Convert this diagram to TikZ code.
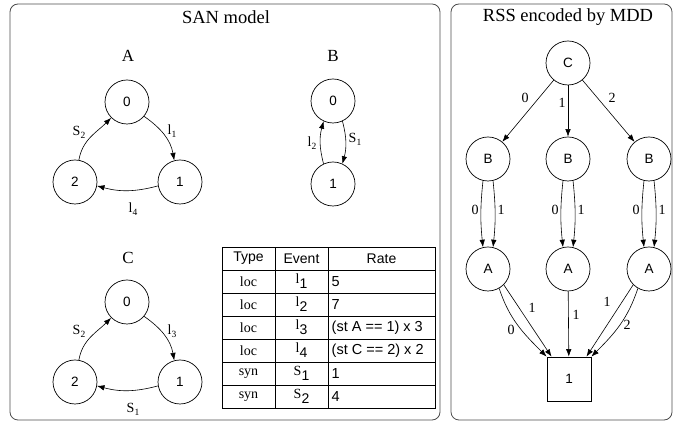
\documentclass[tikz,border=0pt]{standalone}
\usepackage{fontspec}
\setmainfont{Liberation Serif}
\setsansfont{Liberation Sans}
\usetikzlibrary{arrows.meta}

% letter with a lowered index, as used on the edge labels
\newcommand{\edgeidx}[2]{#1\lower3pt\hbox{\fontsize{9.5}{9.5}\selectfont #2}}
% letter with a large sans index, as used in the event column
\newcommand{\tabidx}[2]{{\fontsize{14}{14}\selectfont #1}\lower5pt\hbox{\sffamily\fontsize{14}{14}\selectfont #2}}

\tikzset{
  panel/.style={draw=black!70, rounded corners=8pt, line width=0.8pt},
  title/.style={font=\fontsize{18.5}{18.5}\selectfont, inner sep=0pt},
  glabel/.style={font=\fontsize{17}{17}\selectfont, inner sep=0pt},
  state/.style={circle, draw, line width=0.7pt, minimum size=44pt, inner sep=0pt,
    font=\sffamily\fontsize{13.5}{13.5}\selectfont},
  term/.style={rectangle, draw, line width=0.7pt, minimum size=44pt, inner sep=0pt,
    font=\sffamily\fontsize{13.5}{13.5}\selectfont},
  edge/.style={-{Latex[length=7.5pt,width=5.5pt]}, line width=0.6pt},
  elabel/.style={font=\fontsize{14}{14}\selectfont, inner sep=0pt},
  cell/.style={inner sep=0pt, anchor=center},
  hdr/.style={cell, font=\sffamily\fontsize{14}{14}\selectfont},
  typ/.style={cell, font=\fontsize{14}{14}\selectfont},
  rate/.style={inner sep=0pt, anchor=west, font=\sffamily\fontsize{14.5}{14.5}\selectfont},
  grid/.style={line width=0.6pt}
}

\begin{document}
\begin{tikzpicture}[x=1pt, y=1pt]
\useasboundingbox (0,0) rectangle (674,422);

% ---------- panels ----------
\draw[panel] (10,2) rectangle (440,418);
\draw[panel] (451,2) rectangle (672,418);
\node[title] (t1) at (226,405) {SAN model};
\node[title] (t2) at (568,405) {RSS encoded by MDD};

% ---------- automaton A ----------
\node[glabel] (la) at (128,366) {A};
\node[state] (a0) at (127,320) {0};
\node[state] (a1) at (180,240) {1};
\node[state] (a2) at (75,240) {2};
\draw[edge] (a0.-40) to[out=-35, in=100] (a1.105);
\draw[edge] (a1.190) to[out=-165, in=-15] (a2.-10);
\draw[edge] (a2.80) to[out=80, in=-135] (a0.-135);
\node[elabel] (la1) at (172,291) {\edgeidx{l}{1}};
\node[elabel] (la4) at (133,213) {\edgeidx{l}{4}};
\node[elabel] (la2) at (79,290) {\edgeidx{S}{2}};

% ---------- automaton B ----------
\node[glabel] (lb) at (333,366) {B};
\node[state] (b0) at (333,321) {0};
\node[state] (b1) at (333,238) {1};
\draw[edge] (b1.115) to[out=105, in=-105] (b0.-115);
\draw[edge] (b0.-65) to[out=-75, in=75] (b1.65);
\node[elabel] (lb2) at (312,279) {\edgeidx{l}{2}};
\node[elabel] (lb1) at (355,283) {\edgeidx{S}{1}};

% ---------- automaton C ----------
\node[glabel] (lc) at (128,164) {C};
\node[state] (c0) at (127,120) {0};
\node[state] (c1) at (180,40) {1};
\node[state] (c2) at (75,40) {2};
\draw[edge] (c0.-40) to[out=-35, in=100] (c1.105);
\draw[edge] (c1.190) to[out=-165, in=-15] (c2.-10);
\draw[edge] (c2.80) to[out=80, in=-135] (c0.-135);
\node[elabel] (lc3) at (172,91) {\edgeidx{l}{3}};
\node[elabel] (lc1) at (133,13) {\edgeidx{S}{1}};
\node[elabel] (lc2) at (79,91) {\edgeidx{S}{2}};

% ---------- event table ----------
\draw[grid] (222,14) rectangle (435,175);
\foreach \yy in {152,129,106,83,60,37} \draw[grid] (222,\yy) -- (435,\yy);
\draw[grid] (275,14) -- (275,175);
\draw[grid] (328,14) -- (328,175);
\node[hdr] (h1) at (248.5,163.5) {Type};
\node[hdr] (h2) at (301.5,163.5) {Event};
\node[hdr] (h3) at (381.5,163.5) {Rate};
\node[typ] (r1t) at (248.5,140.5) {loc};
\node[typ] (r2t) at (248.5,117.5) {loc};
\node[typ] (r3t) at (248.5,94.5) {loc};
\node[typ] (r4t) at (248.5,71.5) {loc};
\node[typ] (r5t) at (248.5,48.5) {syn};
\node[typ] (r6t) at (248.5,25.5) {syn};
\node[cell] (r1e) at (301.5,141) {\tabidx{l}{1}};
\node[cell] (r2e) at (301.5,118) {\tabidx{l}{2}};
\node[cell] (r3e) at (301.5,95) {\tabidx{l}{3}};
\node[cell] (r4e) at (301.5,72) {\tabidx{l}{4}};
\node[cell] (r5e) at (301.5,49) {\tabidx{S}{1}};
\node[cell] (r6e) at (301.5,26) {\tabidx{S}{2}};
\node[rate] (r1r) at (331.5,140.5) {5};
\node[rate] (r2r) at (331.5,117.5) {7};
\node[rate] (r3r) at (331.5,94.5) {(st A == 1) x 3};
\node[rate] (r4r) at (331.5,71.5) {(st C == 2) x 2};
\node[rate] (r5r) at (331.5,48.5) {1};
\node[rate] (r6r) at (331.5,25.5) {4};

% ---------- MDD ----------
\node[state] (mc) at (568,359) {C};
\node[state] (mb0) at (488,263) {B};
\node[state] (mb1) at (568,263) {B};
\node[state] (mb2) at (649,263) {B};
\node[state] (ma0) at (488,153) {A};
\node[state] (ma1) at (568,153) {A};
\node[state] (ma2) at (649,153) {A};
\node[term] (mt) at (569,43) {1};

\draw[edge] (mc) -- (mb0);
\draw[edge] (mc) -- (mb1);
\draw[edge] (mc) -- (mb2);
\node[elabel] (e0) at (525,324) {0};
\node[elabel] (e1) at (562,319) {1};
\node[elabel] (e2) at (612,324) {2};

\foreach \n in {0,1,2} {
  \draw[edge] (mb\n.-103) to[out=-96, in=96] (ma\n.103);
  \draw[edge] (mb\n.-77) to[out=-84, in=84] (ma\n.77);
}
\node[elabel] (f00) at (475,212) {0};
\node[elabel] (f01) at (501,212) {1};
\node[elabel] (f10) at (555,212) {0};
\node[elabel] (f11) at (581,212) {1};
\node[elabel] (f20) at (636,212) {0};
\node[elabel] (f21) at (662,212) {1};

\draw[edge] (ma0.-60) to[out=-72, in=135] (mt.north west);
\draw[edge] (ma0.-45) -- (mt.128);
\draw[edge] (ma1) -- (mt);
\draw[edge] (ma2.-135) -- (mt.52);
\draw[edge] (ma2.-120) to[out=-108, in=45] (mt.north east);
\node[elabel] (g0) at (511,92) {0};
\node[elabel] (g1) at (532,114) {1};
\node[elabel] (g2) at (576,107) {1};
\node[elabel] (g3) at (607,120) {1};
\node[elabel] (g4) at (627,97) {2};
\end{tikzpicture}
\end{document}
